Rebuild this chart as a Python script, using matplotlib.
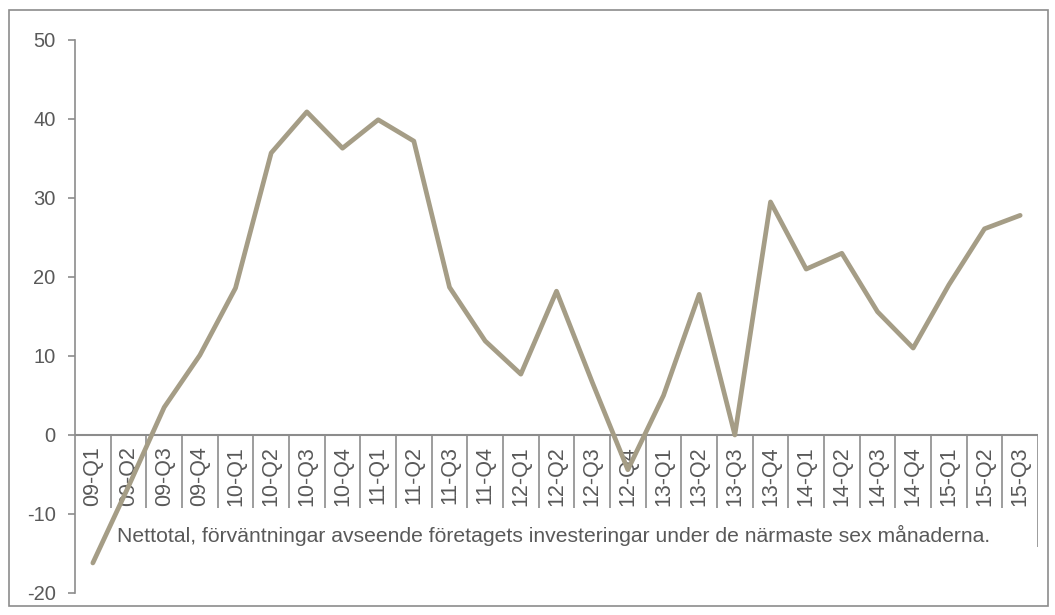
import numpy as np
import matplotlib.pyplot as plt
from matplotlib.patches import Rectangle

plt.rcParams['font.family'] = ['Liberation Sans', 'DejaVu Sans']
plt.rcParams['axes.unicode_minus'] = False

quarters = ["09-Q1", "09-Q2", "09-Q3", "09-Q4",
            "10-Q1", "10-Q2", "10-Q3", "10-Q4",
            "11-Q1", "11-Q2", "11-Q3", "11-Q4",
            "12-Q1", "12-Q2", "12-Q3", "12-Q4",
            "13-Q1", "13-Q2", "13-Q3", "13-Q4",
            "14-Q1", "14-Q2", "14-Q3", "14-Q4",
            "15-Q1", "15-Q2", "15-Q3"]
nettotal = [-16.2, -6.5, 3.5, 10.1,
            18.6, 35.7, 40.9, 36.3,
            39.9, 37.2, 18.7, 11.9,
            7.7, 18.2, 6.7, -4.4,
            5.0, 17.8, 0.0, 29.5,
            21.0, 23.0, 15.6, 11.0,
            19.0, 26.1, 27.8]
yticks = [-20, -10, 0, 10, 20, 30, 40, 50]
note = "Nettotal, förväntningar avseende företagets investeringar under de närmaste sex månaderna."

line_col = "#A59D86"
axis_col = "#8C8C8C"
text_col = "#595959"

fig = plt.figure(figsize=(10.55, 6.15), dpi=100)
fig.patches.append(Rectangle((0.009, 0.015), 0.984, 0.968, transform=fig.transFigure,
                             fill=False, edgecolor=axis_col, linewidth=1.2))

ax = fig.add_axes([0.0711, 0.0358, 0.9128, 0.8992])
x = np.arange(len(quarters))
ax.plot(x, nettotal, color=line_col, linewidth=3.4, solid_joinstyle='round',
        solid_capstyle='round', zorder=3)

ax.set_xlim(-0.5, len(quarters) - 0.5)
ax.set_ylim(-20, 50)
ax.set_yticks(yticks)
ax.set_xticks([])
for s in ["top", "right", "bottom"]:
    ax.spines[s].set_visible(False)
ax.spines["left"].set_color(axis_col)
ax.spines["left"].set_linewidth(1.2)
ax.tick_params(axis="y", colors=axis_col, labelcolor=text_col, labelsize=14.5,
               length=5, width=1.2, pad=9)

# category axis drawn at y = 0
ax.axhline(0, color=axis_col, linewidth=1.5, zorder=2)
ax.vlines(x[1:] - 0.5, -9.2, 0, color=axis_col, linewidth=1.2, zorder=2)
ax.vlines(len(quarters) - 0.5, -14.2, 0, color=axis_col, linewidth=1.2, zorder=2)
for xi, q in zip(x, quarters):
    ax.text(xi, -1.4, q, rotation=90, ha="center", va="top", fontsize=15.5,
            color=text_col, zorder=1)

ax.text(0.68, -12.7, note, ha="left", va="center", fontsize=15.2, color=text_col)

fig.savefig("out.png", dpi=100)
